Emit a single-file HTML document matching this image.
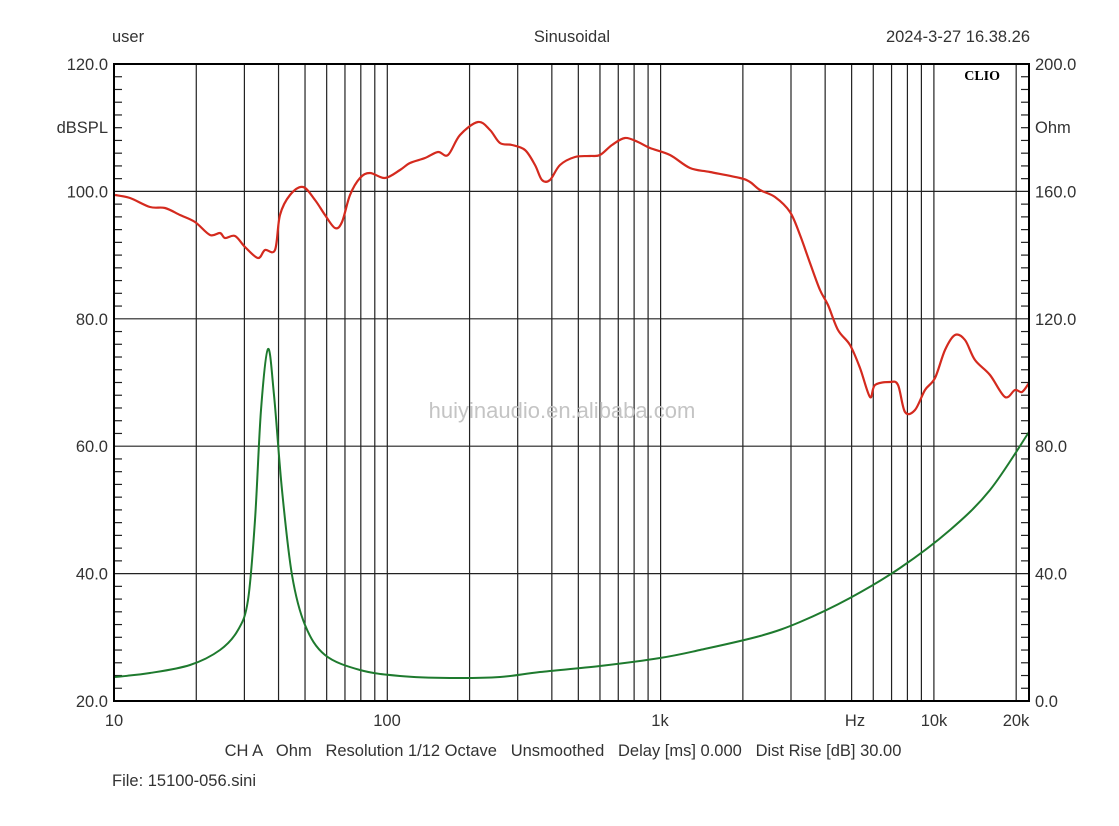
<!DOCTYPE html>
<html><head><meta charset="utf-8"><style>
body{margin:0;background:#fff;}
svg text{font-family:"Liberation Sans",sans-serif;font-size:16.5px;fill:#333;white-space:pre;}
</style></head><body>
<svg id="s" width="1119" height="821" xmlns="http://www.w3.org/2000/svg">
<rect width="1119" height="821" fill="#fff"/>
<g id="grid" stroke="#222" stroke-width="1.2" fill="none"></g>
<text x="562" y="418" text-anchor="middle" style="font-size:22px;fill:#c4c4c4">huiyinaudio.en.alibaba.com</text>
<path id="red" fill="none" stroke="#d42a1e" stroke-width="2.2" stroke-linejoin="round"/>
<path id="green" fill="none" stroke="#1e7a2e" stroke-width="2" stroke-linejoin="round"/>
<rect x="114" y="64" width="915" height="637" fill="none" stroke="#000" stroke-width="2"/>
<text x="112" y="42">user</text>
<text x="572" y="42" text-anchor="middle">Sinusoidal</text>
<text x="1030" y="42" text-anchor="end">2024-3-27 16.38.26</text>
<text x="1000" y="80" text-anchor="end" style="font-family:'Liberation Serif',serif;font-weight:bold;font-size:14px;fill:#000">CLIO</text>
<text x="108" y="133" text-anchor="end">dBSPL</text>
<text x="1035" y="133">Ohm</text>
<text x="855" y="726" text-anchor="middle">Hz</text>
<text x="563" y="756" text-anchor="middle">CH A   Ohm   Resolution 1/12 Octave   Unsmoothed   Delay [ms] 0.000   Dist Rise [dB] 30.00</text>
<text x="112" y="786">File: 15100-056.sini</text>
<g id="lab"></g>
</svg>
<script>
var g=document.getElementById('grid'),lab=document.getElementById('lab'),NS='http://www.w3.org/2000/svg';
function el(p,t,a,txt){var e=document.createElementNS(NS,t);for(var k in a)e.setAttribute(k,a[k]);if(txt)e.textContent=txt;p.appendChild(e);}
function X(f){return 114+273.3*Math.log10(f/10);}
[10,100,1000,10000].forEach(function(d){for(var m=1;m<10;m++){var f=d*m;if(f>23000)return;var x=X(f);if(x>1028)return;if(f>10)el(g,'line',{x1:x,y1:64,x2:x,y2:701});}});
for(var i=1;i<5;i++){var y=64+i*127.4;el(g,'line',{x1:114,y1:y,x2:1029,y2:y});}
for(var j=1;j<50;j++){var y=64+j*12.74;if(j%10==0)continue;el(g,'line',{x1:114,y1:y,x2:122,y2:y});el(g,'line',{x1:1021,y1:y,x2:1029,y2:y});}
var L=['120.0','100.0','80.0','60.0','40.0','20.0'],R=['200.0','160.0','120.0','80.0','40.0','0.0'];
for(var i=0;i<6;i++){var y=64+i*127.4+6;el(lab,'text',{x:108,y:y,'text-anchor':'end'},L[i]);el(lab,'text',{x:1035,y:y},R[i]);}
[['10',114],['100',387],['1k',660],['10k',934],['20k',1016]].forEach(function(a){el(lab,'text',{x:a[1],y:726,'text-anchor':'middle'},a[0]);});
function smooth(s){var p=s.trim().split(/\s+/).map(function(q){return q.split(',').map(Number);});
var d='M'+p[0][0]+','+p[0][1];for(var i=0;i<p.length-1;i++){var a=p[i-1]||p[i],b=p[i],c=p[i+1],e=p[i+2]||c;
d+=' C'+(b[0]+(c[0]-a[0])/6)+','+(b[1]+(c[1]-a[1])/6)+' '+(c[0]-(e[0]-b[0])/6)+','+(c[1]-(e[1]-b[1])/6)+' '+c[0]+','+c[1];}return d;}
document.getElementById('red').setAttribute('d',smooth("115,195 130,198 150,207 165,208 180,215 195,222 210,235 220,233 225,238 235,236 245,247 258,258 265,250 275,250 280,215 290,195 303,187 315,200 325,215 335,228 342,222 350,195 360,178 370,173 385,178 400,170 410,163 425,158 438,152 448,155 460,135 478,122 490,130 500,143 512,145 525,150 535,165 542,180 550,180 560,165 575,157 590,156 600,155 612,145 625,138 638,142 650,148 670,155 690,168 710,172 740,178 750,182 760,190 775,197 790,212 800,235 810,263 820,290 828,305 838,330 850,345 860,368 870,397 875,385 890,382 898,385 905,412 915,410 925,390 935,378 945,350 955,335 965,340 975,360 990,375 1005,397 1015,390 1022,392 1029,383"));
document.getElementById('green').setAttribute('d',smooth("115,677 150,673 190,665 220,650 238,630 248,600 255,520 261,410 268,349 274,395 282,490 292,575 305,625 325,655 360,670 400,676 450,678 500,677 540,672 600,666 660,658 700,650 760,636 800,622 850,598 900,568 950,530 990,490 1029,432"));
</script>
</body></html>
